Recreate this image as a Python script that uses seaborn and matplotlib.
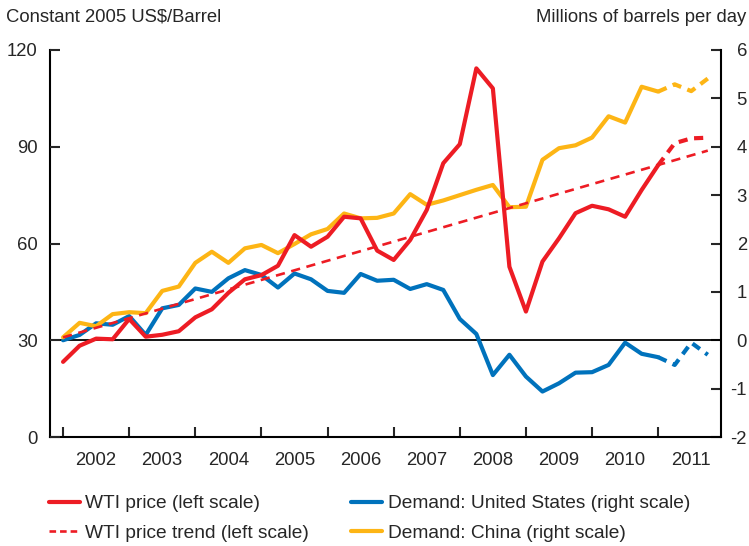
import matplotlib
matplotlib.use("Agg")
import matplotlib.pyplot as plt
import seaborn as sns
import pandas as pd
from matplotlib.lines import Line2D

# quarterly data, 2002Q1 .. 2011Q4 (quarter index 0..39)
quarters = list(range(40))
year_labels = ["2002", "2003", "2004", "2005", "2006",
               "2007", "2008", "2009", "2010", "2011"]

# WTI price, constant 2005 US$/barrel (left scale)
wti_price = [23.3, 28.3, 30.5, 30.3, 36.6, 31.1, 31.7, 32.8, 37.1, 39.6,
             44.7, 48.9, 50.2, 53.1, 62.6, 59.0, 62.1, 68.3, 67.8, 57.8,
             54.9, 61.1, 70.4, 84.9, 90.8, 114.3, 108.1, 52.8, 38.9, 54.4,
             61.6, 69.4, 71.7, 70.6, 68.3, 76.6, 84.3, 91.1, 92.6, 92.8]

# linear trend, start and end quarter
trend_quarters = [0, 39]
wti_trend = [30.9, 88.8]

# demand change, millions of barrels per day (right scale)
demand_us = [0.00, 0.11, 0.35, 0.32, 0.50, 0.11, 0.66, 0.73, 1.07, 1.00,
             1.28, 1.45, 1.35, 1.09, 1.38, 1.26, 1.02, 0.98, 1.37, 1.23,
             1.25, 1.06, 1.16, 1.04, 0.44, 0.13, -0.72, -0.30, -0.75, -1.06,
             -0.89, -0.67, -0.66, -0.51, -0.05, -0.28, -0.35, -0.51, -0.05, -0.30]
demand_china = [0.06, 0.36, 0.29, 0.54, 0.58, 0.56, 1.02, 1.11, 1.60, 1.83,
                1.60, 1.90, 1.97, 1.80, 1.99, 2.19, 2.30, 2.62, 2.52, 2.53,
                2.62, 3.02, 2.80, 2.89, 3.00, 3.11, 3.21, 2.75, 2.76, 3.73,
                3.97, 4.03, 4.19, 4.63, 4.50, 5.24, 5.14, 5.29, 5.15, 5.41]

last_actual = 36  # later quarters drawn dashed (estimates)

RED = "#ED1C24"
BLUE = "#0072BC"
GOLD = "#FDB515"

sns.set_style("ticks")
plt.rcParams["font.family"] = ["Liberation Sans", "DejaVu Sans"]
plt.rcParams["axes.unicode_minus"] = False
FS = 13.3

df = pd.DataFrame({"q": quarters, "wti": wti_price,
                   "us": demand_us, "cn": demand_china})
act = df[df.q <= last_actual]
est = df[df.q >= last_actual]
trend = pd.DataFrame({"q": trend_quarters, "trend": wti_trend})

fig = plt.figure(figsize=(7.49, 5.46), dpi=100)
ax = fig.add_axes([50 / 749, 1 - 437 / 546, 671 / 749, 387 / 546])  # demand (right)
ax2 = ax.twinx()  # price (left), drawn on top

lw = 3.0
dash = (0, (2.2, 1.6))

ax.axhline(0, color="black", lw=1.3, zorder=1)

# demand lines
sns.lineplot(data=act, x="q", y="us", ax=ax, color=BLUE, lw=lw, legend=False)
sns.lineplot(data=est, x="q", y="us", ax=ax, color=BLUE, lw=lw, linestyle=dash, legend=False)
sns.lineplot(data=act, x="q", y="cn", ax=ax, color=GOLD, lw=lw, legend=False)
sns.lineplot(data=est, x="q", y="cn", ax=ax, color=GOLD, lw=lw, linestyle=dash, legend=False)

# price lines
sns.lineplot(data=trend, x="q", y="trend", ax=ax2, color=RED, lw=1.9,
             linestyle=(0, (3.5, 2.5)), legend=False)
sns.lineplot(data=act, x="q", y="wti", ax=ax2, color=RED, lw=lw, legend=False)
sns.lineplot(data=est, x="q", y="wti", ax=ax2, color=RED, lw=lw, linestyle=dash, legend=False)

ax.set_xlim(-0.79, 39.8)
ax.set_ylim(-2, 6)
ax2.set_ylim(0, 120)
for a in (ax, ax2):
    a.set_xlabel("")
    a.set_ylabel("")

# axes: demand on the right, price on the left
ax.yaxis.tick_right()
ax.set_yticks(range(-2, 7))
ax.tick_params(axis="y", which="both", direction="in", length=7, width=1.5,
               pad=18.7, labelsize=FS, left=False, right=True,
               labelleft=False, labelright=True)
for t in ax.get_yticklabels():
    t.set_horizontalalignment("right")
ax2.yaxis.tick_left()
ax2.set_yticks([0, 30, 60, 90, 120])
ax2.tick_params(axis="y", direction="in", length=7, width=1.5, pad=9,
                labelsize=FS, left=True, right=False,
                labelleft=True, labelright=False)

ax.set_xticks(range(0, 40, 4))
ax.set_xticklabels([])
ax.set_xticks(range(2, 40, 4), minor=True)
ax.set_xticklabels(year_labels, minor=True)
ax.tick_params(axis="x", which="major", direction="in", length=7, width=1.5)
ax.tick_params(axis="x", which="minor", length=0, pad=10.5, labelsize=FS)

for s in ("left", "right", "bottom"):
    ax.spines[s].set_linewidth(1.5)
    ax.spines[s].set_color("black")
ax.spines["top"].set_visible(False)
for s in ax2.spines.values():
    s.set_visible(False)

fig.text(6 / 749, 1 - 17 / 546, "Constant 2005 US$/Barrel", fontsize=FS, va="center")
fig.text(746 / 749, 1 - 17 / 546, "Millions of barrels per day", fontsize=FS,
         va="center", ha="right")

LFS = 13.8
handles = [
    Line2D([], [], color=RED, lw=lw),
    Line2D([], [], color=RED, lw=1.9, linestyle=(0, (2.5, 1.5))),
    Line2D([], [], color=BLUE, lw=lw),
    Line2D([], [], color=GOLD, lw=lw),
]
labels = ["WTI price (left scale)", "WTI price trend (left scale)",
          "Demand: United States (right scale)", "Demand: China (right scale)"]
fig.legend(handles, labels, ncol=2, frameon=False, fontsize=LFS,
           loc="upper left", bbox_to_anchor=(49 / 749, 1 - 495 / 546),
           borderpad=0, borderaxespad=0, handlelength=1.6, handletextpad=0.3,
           columnspacing=2.2, labelspacing=0.62)

fig.savefig("out.png", dpi=100)
